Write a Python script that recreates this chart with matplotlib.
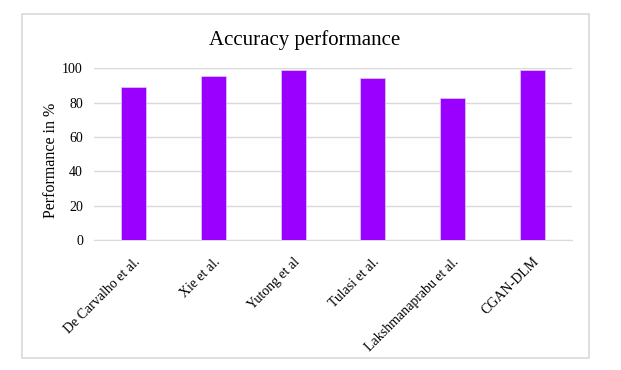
import matplotlib.pyplot as plt
from matplotlib.patches import Rectangle

plt.rcParams['font.family'] = ['Liberation Serif', 'DejaVu Serif']

# Dữ liệu
methods = ['De Carvalho et al.', 'Xie et al.', 'Yutong et al', 'Tulasi et al.',
           'Lakshmanaprabu et al.', 'CGAN-DLM']
accuracy = [89.3, 95.5, 98.8, 94.3, 82.5, 98.8]
yticks = [0, 20, 40, 60, 80, 100]

fig = plt.figure(figsize=(6.21, 3.70), dpi=100)
ax = fig.add_axes([94 / 621, 1 - 240 / 370, 478 / 621, 171.7 / 370])

# Khung viền bên ngoài
fig.patches.append(Rectangle((21.5 / 621, 1 - 357.5 / 370), 567 / 621, 344 / 370,
                             transform=fig.transFigure, fill=False,
                             edgecolor='#d9d9d9', linewidth=1.2))

ax.bar(range(len(methods)), accuracy, width=0.31, color='#9900ff',
       edgecolor='#d9c2ff', linewidth=0.6, zorder=3)

ax.set_xlim(-0.5, len(methods) - 0.5)
ax.set_ylim(0, 100)
ax.set_yticks(yticks)
ax.set_yticklabels([str(v) for v in yticks], fontsize=10)
ax.set_xticks(range(len(methods)))
ax.set_xticklabels(methods, rotation=45, ha='right', rotation_mode='anchor', fontsize=10)
ax.tick_params(axis='y', length=0, pad=8)
ax.tick_params(axis='x', length=0, pad=11)
ax.yaxis.grid(True, color='#d9d9d9', linewidth=1)
ax.set_axisbelow(True)
for s in ['top', 'right', 'left']:
    ax.spines[s].set_visible(False)
ax.spines['bottom'].set_color('#d9d9d9')

ax.set_ylabel('Performance in %', fontsize=11.5)
ax.yaxis.set_label_coords(59 / 621, 1 - 160 / 370, transform=fig.transFigure)
fig.text(305 / 621, 1 - 40 / 370, 'Accuracy performance', ha='center', va='center', fontsize=15)

fig.savefig('out.png', dpi=100)
